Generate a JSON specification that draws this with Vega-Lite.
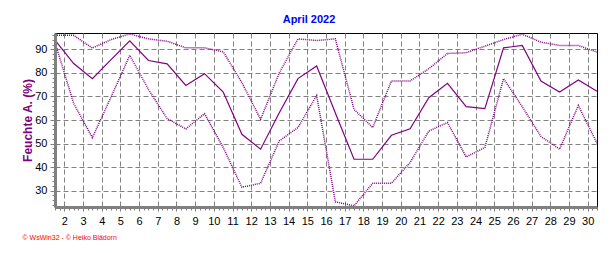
{
  "$schema": "https://vega.github.io/schema/vega-lite/v6.json",
  "autosize": "none",
  "width": 542,
  "height": 174,
  "padding": {"left": 55, "top": 33, "right": 19, "bottom": 46},
  "background": "white",
  "config": {"view": {"stroke": "#000000", "strokeWidth": 1}, "font": "Liberation Sans"},
  "title": {"text": "April 2022", "fontSize": 11, "fontWeight": "bold", "color": "#0000FF", "font": "Liberation Sans", "anchor": "middle", "dx": -17, "dy": 13, "offset": 10, "baseline": "alphabetic"},
  "data": {"values": [
    {"day": 1, "max": 96, "avg": 94, "min": 93},
    {"day": 2, "max": 96, "avg": 84, "min": 67},
    {"day": 3, "max": 90.6, "avg": 77.6, "min": 52.5},
    {"day": 4, "max": 94.2, "avg": 85.7, "min": 69.8},
    {"day": 5, "max": 96.6, "avg": 93.7, "min": 87.5},
    {"day": 6, "max": 94.5, "avg": 85.3, "min": 73},
    {"day": 7, "max": 93.5, "avg": 83.9, "min": 60.6},
    {"day": 8, "max": 90.7, "avg": 74.7, "min": 56.2},
    {"day": 9, "max": 90.7, "avg": 79.7, "min": 62.7},
    {"day": 10, "max": 89, "avg": 71.9, "min": 48.3},
    {"day": 11, "max": 75.9, "avg": 53.9, "min": 31.4},
    {"day": 12, "max": 60.3, "avg": 47.6, "min": 33.1},
    {"day": 13, "max": 80, "avg": 63.1, "min": 51.1},
    {"day": 14, "max": 94.5, "avg": 77.6, "min": 56.8},
    {"day": 15, "max": 93.8, "avg": 83, "min": 70.4},
    {"day": 16, "max": 94.5, "avg": 63, "min": 25.2},
    {"day": 17, "max": 64.5, "avg": 43.3, "min": 23.5},
    {"day": 18, "max": 56.8, "avg": 43.3, "min": 33.1},
    {"day": 19, "max": 76.6, "avg": 53.5, "min": 33.1},
    {"day": 20, "max": 76.6, "avg": 56.3, "min": 41.9},
    {"day": 21, "max": 81.8, "avg": 69.5, "min": 55.3},
    {"day": 22, "max": 88.3, "avg": 75.6, "min": 58.9},
    {"day": 23, "max": 88.6, "avg": 65.7, "min": 44.3},
    {"day": 24, "max": 91.4, "avg": 64.8, "min": 48.3},
    {"day": 25, "max": 94.2, "avg": 90.7, "min": 77.6},
    {"day": 26, "max": 96.5, "avg": 91.7, "min": 65.7},
    {"day": 27, "max": 93.1, "avg": 76.6, "min": 53},
    {"day": 28, "max": 91.7, "avg": 71.9, "min": 47.6},
    {"day": 29, "max": 91.7, "avg": 77, "min": 66.2},
    {"day": 30, "max": 88.9, "avg": 72.2, "min": 50.1}
  ]},
  "resolve": {"axis": {"x": "independent", "y": "independent"}},
  "layer": [
    {
      "mark": {"type": "line", "color": "#800080", "strokeWidth": 1.2},
      "encoding": {
        "x": {"field": "day", "type": "quantitative", "scale": {"domain": [1, 30], "nice": false, "zero": false},
          "axis": {"orient": "bottom", "values": [1.5,2.5,3.5,4.5,5.5,6.5,7.5,8.5,9.5,10.5,11.5,12.5,13.5,14.5,15.5,16.5,17.5,18.5,19.5,20.5,21.5,22.5,23.5,24.5,25.5,26.5,27.5,28.5,29.5],
            "labelExpr": "format(datum.value + 0.5, 'd')", "labelFontSize": 11, "labelColor": "#000000", "labelFont": "Liberation Sans", "labelPadding": 4, "labelFlush": false, "labelOverlap": false,
            "tickSize": 4, "tickColor": "#808080", "domain": false,
            "grid": true, "gridColor": "#808080", "gridDash": [5, 3], "gridWidth": 1,
            "title": "© WsWin32 - © Heiko Blädorn", "titleColor": "#FF0000", "titleFontSize": 7, "titleFontWeight": "normal", "titleFont": "Liberation Sans",
            "titleAnchor": "start", "titleAlign": "left", "titleBaseline": "middle", "titleX": -33, "titleY": 30}},
        "y": {"field": "avg", "type": "quantitative", "scale": {"domain": [23, 97], "nice": false, "zero": false},
          "axis": {"orient": "left", "values": [30, 40, 50, 60, 70, 80, 90], "labelFontSize": 11, "labelColor": "#000000", "labelFont": "Liberation Sans", "labelPadding": 3, "labelFlush": false,
            "tickSize": 5, "tickColor": "#808080", "domain": false,
            "grid": true, "gridColor": "#808080", "gridDash": [5, 3], "gridWidth": 1,
            "title": "Feuchte A. (%)", "titleColor": "#800080", "titleFontSize": 12, "titleFontWeight": "bold", "titleFont": "Liberation Sans",
            "titleAngle": -90, "titleAlign": "center", "titleBaseline": "middle", "titleX": -28, "titleY": 87}}
      }
    },
    {
      "mark": {"type": "line", "color": "#800080", "strokeWidth": 1.5, "strokeDash": [1, 1]},
      "encoding": {
        "x": {"field": "day", "type": "quantitative", "scale": {"domain": [1, 30], "nice": false, "zero": false},
          "axis": {"orient": "bottom", "values": [1,1.25,1.5,1.75,2,2.25,2.5,2.75,3,3.25,3.5,3.75,4,4.25,4.5,4.75,5,5.25,5.5,5.75,6,6.25,6.5,6.75,7,7.25,7.5,7.75,8,8.25,8.5,8.75,9,9.25,9.5,9.75,10,10.25,10.5,10.75,11,11.25,11.5,11.75,12,12.25,12.5,12.75,13,13.25,13.5,13.75,14,14.25,14.5,14.75,15,15.25,15.5,15.75,16,16.25,16.5,16.75,17,17.25,17.5,17.75,18,18.25,18.5,18.75,19,19.25,19.5,19.75,20,20.25,20.5,20.75,21,21.25,21.5,21.75,22,22.25,22.5,22.75,23,23.25,23.5,23.75,24,24.25,24.5,24.75,25,25.25,25.5,25.75,26,26.25,26.5,26.75,27,27.25,27.5,27.75,28,28.25,28.5,28.75,29,29.25,29.5,29.75,30],
            "labels": false, "tickSize": 3, "tickColor": "#808080", "grid": false, "title": null,
            "domain": true, "domainColor": "#808080", "domainWidth": 3, "zindex": 1}},
        "y": {"field": "max", "type": "quantitative", "scale": {"domain": [23, 97], "nice": false, "zero": false},
          "axis": {"orient": "left", "values": [24,26,28,30,32,34,36,38,40,42,44,46,48,50,52,54,56,58,60,62,64,66,68,70,72,74,76,78,80,82,84,86,88,90,92,94,96],
            "labels": false, "tickSize": 3, "tickColor": "#808080", "grid": false, "title": null,
            "domain": true, "domainColor": "#808080", "domainWidth": 3, "zindex": 1}}
      }
    },
    {
      "mark": {"type": "line", "color": "#800080", "strokeWidth": 1.5, "strokeDash": [1, 1]},
      "encoding": {
        "x": {"field": "day", "type": "quantitative", "scale": {"domain": [1, 30], "nice": false, "zero": false}, "axis": null},
        "y": {"field": "min", "type": "quantitative", "scale": {"domain": [23, 97], "nice": false, "zero": false}, "axis": null}
      }
    }
  ]
}
